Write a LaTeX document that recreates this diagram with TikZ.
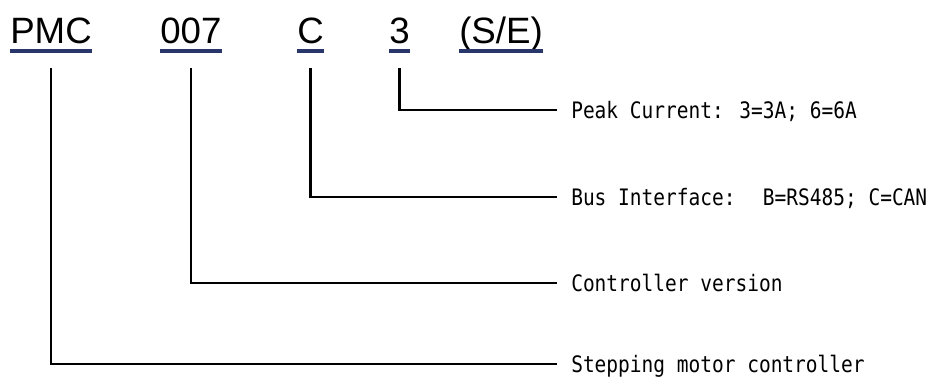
\documentclass[tikz,border=0pt]{standalone}
\usepackage{fontspec}
\setmainfont{Liberation Sans}
\newfontfamily\labelfont[FakeStretch=0.86]{DejaVu Sans Mono}
\definecolor{codeblue}{RGB}{40,54,108}

\begin{document}
\begin{tikzpicture}[x=0.75pt,y=-0.75pt,
  code/.style={anchor=base west,inner sep=0pt,font=\fontsize{27.5}{30}\selectfont},
  desc/.style={anchor=west,inner xsep=10.5pt,inner ysep=0pt,text height=12.4pt,
    text depth=0pt,font=\labelfont\fontsize{17}{20}\selectfont},
  lead/.style={line width=1.6pt}]
  \useasboundingbox (0,0) rectangle (933,376);
  % fields of the part number
  \node[code] (pmc) at (10,43) {PMC};
  \node[code] (ver) at (160,43) {007};
  \node[code] (bus) at (297,43) {C};
  \node[code] (cur) at (389,43) {3};
  \node[code] (opt) at (459,43) {(S/E)};
  \foreach \n in {pmc,ver,bus,cur,opt}
    \draw[codeblue,line width=2.6pt] ([yshift=-6pt]\n.base west) -- ([yshift=-6pt]\n.base east);
  % what each field means
  \node[desc] (dcur) at (557,110) {Peak Current: 3=3A; 6=6A};
  \node[desc] (dbus) at (557,197) {Bus Interface:~ B=RS485; C=CAN};
  \node[desc] (dver) at (557,283) {Controller version};
  \node[desc] (dpmc) at (557,364) {Stepping motor controller};
  \foreach \n/\d in {cur/dcur,bus/dbus,ver/dver,pmc/dpmc}
    \draw[lead] ([yshift=-19pt]\n.base) |- (\d.west);
\end{tikzpicture}
\end{document}
